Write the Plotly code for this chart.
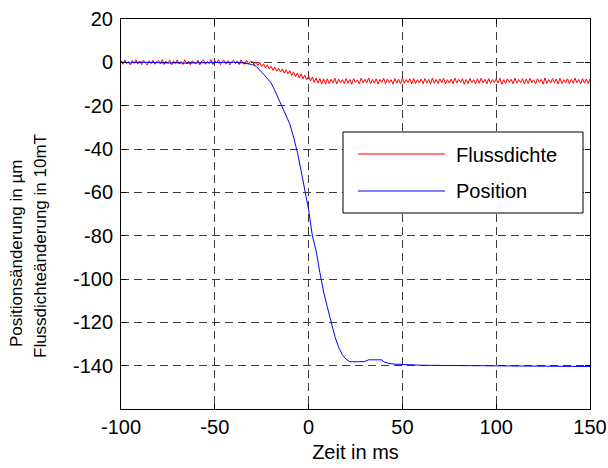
import plotly.graph_objects as go

# ---------------- data ----------------
flux_t = list(range(-100, 151))
flux_v = [
    0.8, -0.9, 1.1, -0.6, 0.4, -1.2, 0.9, -0.5, 1.2, -0.8,
    0.5, -1.1, 0.9, -0.2, -1.3, 0.7, -0.6, 1.0, -0.9, 0.3,
    0.9, -0.7, 1.3, -1.0, 0.6, -0.4, 1.0, -1.2, 0.7, -0.5,
    1.1, -0.8, 0.3, -1.0, 1.2, -0.7, 0.5, -1.1, 0.8, -0.2,
    -0.7, 1.0, -1.2, 0.5, 1.1, -0.9, 0.4, -0.6, 1.3, -1.0,
    0.7, -0.3, 1.2, -1.1, 0.5, 0.9, -0.8, 0.8, -1.2, 0.3,
    1.0, -0.6, 0.7, -1.0, 1.2, -0.2, -0.9, 0.9, -0.7, 0.5,
    0.4, -1.1, 0.2, -1.5, -0.1, -2.0, -0.7, -2.6, -1.1, -3.1,
    -1.8, -3.7, -2.2, -4.1, -2.7, -4.5, -3.0, -5.0, -3.4, -5.4,
    -3.9, -6.1, -4.4, -6.6, -4.9, -7.2, -5.3, -7.6, -5.9, -8.1,
    -6.4, -8.6, -6.8, -9.3, -7.2, -9.6, -7.5, -10.0, -7.6, -10.1,
    -7.6, -9.9, -7.8, -9.6, -7.3, -10.0, -7.7, -9.5, -8.0, -9.8,
    -7.4, -9.7, -7.9, -10.1, -7.5, -9.4, -8.1, -9.9, -7.3, -9.6,
    -7.8, -9.5, -7.2, -9.9, -7.9, -9.6, -7.6, -10.0, -7.8, -9.3,
    -7.4, -9.8, -7.7, -9.4, -8.0, -10.1, -7.5, -9.6, -7.8, -9.9,
    -7.3, -9.7, -7.9, -9.3, -7.6, -10.0, -7.4, -9.8, -8.0, -9.5,
    -7.7, -9.9, -7.5, -9.6, -7.8, -10.1, -7.2, -9.7, -7.9, -9.8,
    -7.6, -9.4, -7.4, -10.0, -8.0, -9.6, -7.7, -9.9, -7.3, -9.5,
    -7.8, -9.3, -7.5, -10.1, -7.9, -9.8, -7.4, -9.4, -8.0, -9.9,
    -7.6, -9.7, -7.3, -9.5, -7.8, -10.0, -7.5, -9.8, -7.9, -9.3,
    -7.7, -9.6, -7.4, -10.1, -8.0, -9.7, -7.6, -9.2, -7.8, -9.9,
    -7.3, -9.6, -7.9, -9.4, -7.5, -10.0, -7.7, -9.8, -7.4, -9.5,
    -8.0, -9.9, -7.6, -9.3, -7.8, -10.1, -7.2, -9.7, -7.9, -9.6,
    -7.5, -9.4, -7.7, -10.0, -7.4, -9.8, -8.0, -9.5, -7.6, -9.9,
    -7.8, -9.7, -7.3, -9.4, -7.9, -10.0, -7.5, -9.6, -7.7, -9.8,
    -7.6,
]

pos_t = [-100, -95, -90, -85, -80, -75, -70, -65, -60, -55, -50, -45, -40,
         -35, -32, -30, -28, -26, -24, -22, -20, -18, -16, -14, -12, -10,
         -8, -6, -4, -2, 0, 2, 4, 6, 8, 10, 12, 14, 16, 18, 20, 22, 26, 30,
         32, 36, 39, 40, 43, 46, 50, 55, 60, 70, 80, 90, 100, 110, 120, 130,
         140, 150]
pos_v = [0.0, -0.2, 0.1, -0.1, 0.0, -0.3, -0.2, -0.4, -0.2, -0.1, 0.0, -0.1,
         0.0, -0.3, -0.6, -1.0, -1.8, -3.5, -5.5, -7.5, -9.5, -13.0, -17.0,
         -21.0, -24.5, -28.5, -34.5, -41.5, -50.0, -59.0, -68.0, -80.0, -87.0,
         -97.0, -106.0, -113.0, -120.5, -126.5, -131.5, -135.0, -137.0,
         -138.2, -138.2, -138.1, -137.3, -137.2, -137.3, -138.2, -139.0,
         -139.3, -139.5, -139.7, -139.8, -139.9, -140.0, -140.0, -140.1,
         -140.2, -140.2, -140.3, -140.3, -140.4]

x_ticks = [-100, -50, 0, 50, 100, 150]
x_tick_labels = ["-100", "-50", "0", "50", "100", "150"]
y_ticks = [-140, -120, -100, -80, -60, -40, -20, 0, 20]
y_tick_labels = ["-140", "-120", "-100", "-80", "-60", "-40", "-20", "0", "20"]

series_names = ["Flussdichte", "Position"]
x_title = "Zeit in ms"
y_title_lines = ["Positionsänderung in µm", "Flussdichteänderung in 10mT"]

# ---------------- layout helpers ----------------
W, H = 608, 468
L, R, T, B = 121, 18, 19, 59
PW, PH = W - L - R, H - T - B
FONT = "Liberation Sans, Arial, sans-serif"


def px(x):
    return (x - L) / PW


def py(y):
    return (H - B - y) / PH


fig = go.Figure()
fig.add_trace(go.Scatter(x=flux_t, y=flux_v, mode="lines", name=series_names[0],
                         line=dict(color="#ff0000", width=1)))
fig.add_trace(go.Scatter(x=pos_t, y=pos_v, mode="lines", name=series_names[1],
                         line=dict(color="#0000ff", width=1)))

axis_common = dict(
    showline=True, linecolor="black", linewidth=1, mirror="ticks",
    ticks="inside", ticklen=5, tickcolor="black", tickwidth=1,
    showgrid=True, gridcolor="#3a3a3a", gridwidth=1, griddash="8px,5px",
    zeroline=False, automargin=False,
    tickfont=dict(family=FONT, size=20, color="black"),
)

fig.update_layout(
    width=W, height=H,
    margin=dict(l=L, r=R, t=T, b=B, pad=0),
    paper_bgcolor="white", plot_bgcolor="white",
    showlegend=False,
    font=dict(family=FONT, color="black"),
    xaxis=dict(range=[-100, 150], tickvals=x_ticks, ticktext=x_tick_labels,
               ticklabelstandoff=0,
               title=dict(text=x_title, font=dict(family=FONT, size=20), standoff=7),
               **axis_common),
    yaxis=dict(range=[-160, 20], tickvals=y_ticks, ticktext=y_tick_labels,
               ticklabelstandoff=3, **axis_common),
)

annotations = [
    dict(text=y_title_lines[0], x=px(16), y=py(254), xref="paper", yref="paper",
         textangle=-90, showarrow=False, xanchor="center", yanchor="middle",
         font=dict(family=FONT, size=17, color="black")),
    dict(text=y_title_lines[1], x=px(41), y=py(246), xref="paper", yref="paper",
         textangle=-90, showarrow=False, xanchor="center", yanchor="middle",
         font=dict(family=FONT, size=17, color="black")),
    dict(text=series_names[0], x=px(454), y=py(155), xref="paper", yref="paper",
         showarrow=False, xanchor="left", yanchor="middle",
         font=dict(family=FONT, size=20, color="black")),
    dict(text=series_names[1], x=px(454), y=py(191), xref="paper", yref="paper",
         showarrow=False, xanchor="left", yanchor="middle",
         font=dict(family=FONT, size=20, color="black")),
]

shapes = [
    dict(type="rect", xref="paper", yref="paper", x0=px(343), x1=px(583),
         y0=py(213), y1=py(132), fillcolor="white",
         line=dict(color="black", width=1), layer="above"),
    dict(type="line", xref="paper", yref="paper", x0=px(358), x1=px(445),
         y0=py(154), y1=py(154), line=dict(color="#ff0000", width=1), layer="above"),
    dict(type="line", xref="paper", yref="paper", x0=px(358), x1=px(445),
         y0=py(191), y1=py(191), line=dict(color="#0000ff", width=1), layer="above"),
]

fig.update_layout(annotations=annotations, shapes=shapes)
fig.write_html("out.html",
               config={"displayModeBar": False},
               post_script="document.body.style.margin='0px';"
                           "document.body.style.padding='0px';")
